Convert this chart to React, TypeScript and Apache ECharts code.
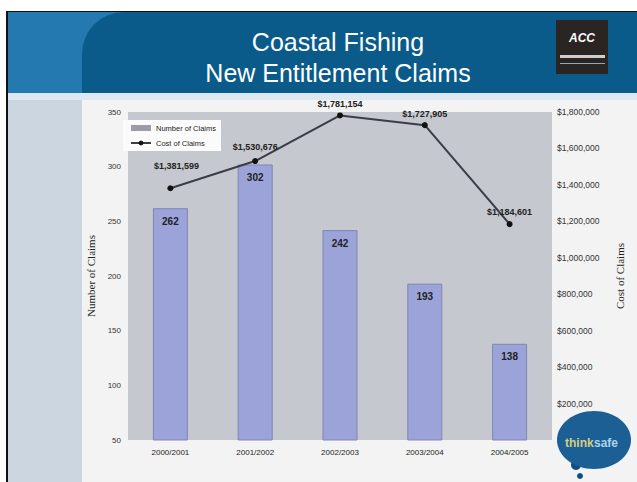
import React, { useEffect, useRef } from "react";
import * as echarts from "echarts";

const categories = ["2000/2001", "2001/2002", "2002/2003", "2003/2004", "2004/2005"];
const claimCounts = [262, 302, 242, 193, 138];
const claimCosts = [1381599, 1530676, 1781154, 1727905, 1184601];
const costLabelOffsets = [[6, -10], [0, -2], [0, 1], [0, 1], [0, 0]];
const titleLines = ["Coastal Fishing", "New Entitlement Claims"];

const fmtMoney = (v: number) => "$" + v.toLocaleString("en-US");

export default function App() {
  const ref = useRef<HTMLDivElement>(null);
  useEffect(() => {
    document.body.style.margin = "0";
    const chart = echarts.init(ref.current!, undefined, { renderer: "svg" });
    const option: any = {
      animation: false,
      backgroundColor: "#ffffff",
      graphic: [
        { type: "rect", z: -10, shape: { x: 6, y: 11, width: 631, height: 471 }, style: { fill: "#111" } },
        { type: "rect", z: -9, shape: { x: 8, y: 12, width: 629, height: 82 }, style: { fill: "#2479b0" } },
        { type: "rect", z: -8, shape: { x: 82, y: 12, width: 555, height: 82, r: [42, 0, 0, 0] }, style: { fill: "#0a5a8a" } },
        { type: "rect", z: -8, shape: { x: 8, y: 93, width: 629, height: 7 }, style: { fill: "#dce9f3" } },
        { type: "rect", z: -8, shape: { x: 8, y: 100, width: 74, height: 382 }, style: { fill: "#cbd6e1" } },
        { type: "rect", z: -8, shape: { x: 82, y: 100, width: 555, height: 382 }, style: { fill: "#f3f3f3" } },
        {
          type: "text", z: 5, x: 338, y: 42,
          style: { text: titleLines[0], fill: "#ffffff", font: "25px Liberation Sans, Arial, sans-serif", textAlign: "center", textVerticalAlign: "middle" },
        },
        {
          type: "text", z: 5, x: 338, y: 73,
          style: { text: titleLines[1], fill: "#ffffff", font: "25px Liberation Sans, Arial, sans-serif", textAlign: "center", textVerticalAlign: "middle" },
        },
        { type: "rect", z: 5, shape: { x: 556, y: 20, width: 52, height: 54 }, style: { fill: "#2a2422" } },
        {
          type: "text", z: 6, x: 582, y: 38,
          style: { text: "ACC", fill: "#ffffff", font: "italic bold 12px Liberation Sans, Arial, sans-serif", textAlign: "center", textVerticalAlign: "middle" },
        },
        { type: "rect", z: 6, shape: { x: 560, y: 55, width: 45, height: 3 }, style: { fill: "#cfcfcf" } },
        { type: "rect", z: 6, shape: { x: 560, y: 63, width: 45, height: 1 }, style: { fill: "#8fa6c0" } },
        { type: "circle", z: 5, shape: { cx: 576, cy: 465, r: 5 }, style: { fill: "#0e4e80" } },
        { type: "circle", z: 5, shape: { cx: 580, cy: 476, r: 3 }, style: { fill: "#0e4e80" } },
        { type: "ellipse", z: 5, shape: { cx: 594, cy: 440, rx: 37, ry: 29 }, style: { fill: "#1c5f95" } },
        {
          type: "text", z: 6, x: 565, y: 443,
          style: { text: "think", fill: "#d6cf7e", font: "bold 12px Liberation Sans, Arial, sans-serif", textAlign: "left", textVerticalAlign: "middle" },
        },
        {
          type: "text", z: 6, x: 594, y: 443,
          style: { text: "safe", fill: "#a9d4ec", font: "bold 12px Liberation Sans, Arial, sans-serif", textAlign: "left", textVerticalAlign: "middle" },
        },
      ],
      legend: {
        left: 123,
        top: 120,
        orient: "vertical",
        backgroundColor: "#fbfbfb",
        padding: [4, 5, 4, 7],
        itemGap: 7,
        itemWidth: 20,
        itemHeight: 6,
        textStyle: { fontSize: 7.5, color: "#222", fontFamily: "Liberation Sans, Arial, sans-serif" },
        data: [
          { name: "Number of Claims", icon: "rect", itemStyle: { color: "#9c9ca8", borderWidth: 0 } },
          { name: "Cost of Claims" },
        ],
      },
      grid: {
        left: 128, right: 85, top: 112, bottom: 42,
        show: true, backgroundColor: "#c5c8ce", borderWidth: 0,
      },
      xAxis: {
        type: "category",
        data: categories,
        axisLine: { show: false },
        axisTick: { show: false },
        axisLabel: { fontSize: 8, color: "#222", margin: 8, fontFamily: "Liberation Sans, Arial, sans-serif" },
      },
      yAxis: [
        {
          type: "value", min: 50, max: 350, interval: 50,
          name: "Number of Claims", nameLocation: "middle", nameGap: 28,
          nameTextStyle: { fontFamily: "Liberation Serif, Times New Roman, serif", fontSize: 11, color: "#222" },
          axisLine: { show: false }, axisTick: { show: false }, splitLine: { show: false },
          axisLabel: { fontSize: 8, color: "#333", margin: 7, fontFamily: "Liberation Sans, Arial, sans-serif" },
        },
        {
          type: "value", min: 0, max: 1800000, interval: 200000,
          name: "Cost of Claims", nameLocation: "middle", nameGap: 62, nameRotate: 90,
          nameTextStyle: { fontFamily: "Liberation Serif, Times New Roman, serif", fontSize: 11, color: "#222" },
          axisLine: { show: false }, axisTick: { show: false }, splitLine: { show: false },
          axisLabel: {
            fontSize: 8.5, color: "#333", margin: 5, fontFamily: "Liberation Sans, Arial, sans-serif",
            formatter: (v: number) => (v === 0 ? "$-" : fmtMoney(v)),
          },
        },
      ],
      series: [
        {
          name: "Number of Claims",
          type: "bar",
          yAxisIndex: 0,
          barWidth: 35,
          data: claimCounts,
          itemStyle: { color: "#9ba3d8", borderColor: "#7f86b6", borderWidth: 1 },
          label: {
            show: true, position: "insideTop", distance: 8,
            fontSize: 10, fontWeight: "bold", color: "#222",
            fontFamily: "Liberation Sans, Arial, sans-serif",
          },
        },
        {
          name: "Cost of Claims",
          type: "line",
          yAxisIndex: 1,
          data: claimCosts.map((v, i) => ({
            value: v,
            label: { offset: costLabelOffsets[i] },
          })),
          lineStyle: { color: "#3a3c47", width: 2 },
          itemStyle: { color: "#111" },
          symbol: "circle",
          symbolSize: 6,
          z: 5,
          label: {
            show: true, position: "top", distance: 5,
            fontSize: 9, fontWeight: "bold", color: "#222",
            fontFamily: "Liberation Sans, Arial, sans-serif",
            formatter: (p: any) => fmtMoney(p.value),
          },
        },
      ],
    };
    chart.setOption(option);
    return () => chart.dispose();
  }, []);
  return <div ref={ref} style={{ position: "fixed", left: 0, top: 0, width: 637, height: 482 }} />;
}
